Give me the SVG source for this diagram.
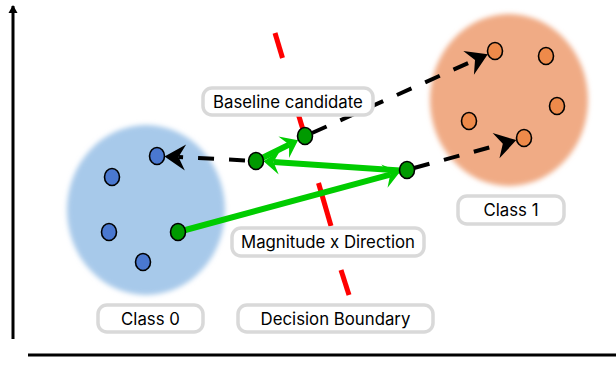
<svg xmlns="http://www.w3.org/2000/svg" width="616" height="368" viewBox="0 0 616 368">
<style>
.lbl rect{fill:#fff;stroke:#d9d9d9;stroke-width:3.5}
.lbl text{font-family:Inter,"Liberation Sans",sans-serif;font-size:16.8px;fill:#000;text-anchor:middle;dominant-baseline:central}
.dot{stroke:#000;stroke-width:1.6}
.blue{fill:#4a78d0}.orange{fill:#ee8a4a}.green{fill:#009a00}
.dash{stroke:#000;stroke-width:4;stroke-dasharray:16 15;fill:none;marker-end:url(#ab)}
.gl{stroke:#00cc00;stroke-width:6;fill:none;marker-end:url(#ag)}
.red{stroke:#ff0000;stroke-width:5}
</style>
<defs>
<filter id="blur" x="-20%" y="-20%" width="140%" height="140%"><feGaussianBlur stdDeviation="2.5"/></filter>
<marker id="ab" markerUnits="userSpaceOnUse" viewBox="-8 -14 23 28" markerWidth="23" markerHeight="28" refX="0" refY="0" orient="auto" overflow="visible"><path d="M14,0 L-7,-13 L0,0 L-7,13 Z" fill="#000"/></marker>
<marker id="ag" markerUnits="userSpaceOnUse" viewBox="-7 -13 18 26" markerWidth="18" markerHeight="26" refX="0" refY="0" orient="auto" overflow="visible"><path d="M10,0 L-6,-12 L0,0 L-6,12 Z" fill="#00cc00"/></marker>
<marker id="ax" markerUnits="userSpaceOnUse" viewBox="-8 -5 10 10" markerWidth="10" markerHeight="10" refX="0" refY="0" orient="auto" overflow="visible"><path d="M1,0 L-7,-4.5 L-7,4.5 Z" fill="#000"/></marker>
</defs>
<g id="blobs">
<ellipse cx="146" cy="210" rx="79" ry="85" fill="#a7c9ea" filter="url(#blur)"/>
<ellipse cx="509" cy="100" rx="79" ry="86" fill="#f0ab85" filter="url(#blur)"/>
</g>
<g id="decision-boundary">
<line class="red" x1="275" y1="33" x2="282.5" y2="58"/>
<line class="red" x1="294" y1="100" x2="307" y2="143"/>
<line class="red" x1="318.5" y1="183" x2="331" y2="226"/>
<line class="red" x1="341" y1="270" x2="349" y2="295"/>
</g>
<g id="axes">
<line x1="13" y1="339" x2="13" y2="6" stroke="#000" stroke-width="3" marker-end="url(#ax)"/>
<line x1="28" y1="355" x2="616" y2="355" stroke="#000" stroke-width="3"/>
</g>
<g id="connectors">
<line class="dash" x1="245" y1="160.4" x2="178.5" y2="157.1"/>
<line class="dash" x1="312" y1="133" x2="475" y2="60"/>
<line class="dash" x1="414" y1="168" x2="502.8" y2="143.8"/>
<line class="gl" x1="178" y1="232" x2="390.2" y2="174.6"/>
<line class="gl" x1="400" y1="170.5" x2="273.5" y2="162"/>
<line class="gl" x1="256" y1="161" x2="289.1" y2="144.6"/>
</g>
<g id="class0-points">
<ellipse class="dot blue" cx="157" cy="156" rx="7.5" ry="8.5"/>
<ellipse class="dot blue" cx="112" cy="177" rx="7.5" ry="8.5"/>
<ellipse class="dot blue" cx="109" cy="232" rx="7.5" ry="8.5"/>
<ellipse class="dot blue" cx="143" cy="262" rx="7.5" ry="8.5"/>
</g>
<g id="class1-points">
<ellipse class="dot orange" cx="495" cy="51" rx="7.5" ry="8.5"/>
<ellipse class="dot orange" cx="546" cy="56" rx="7.5" ry="8.5"/>
<ellipse class="dot orange" cx="557" cy="106" rx="7.5" ry="8.5"/>
<ellipse class="dot orange" cx="469" cy="121" rx="7.5" ry="8.5"/>
<ellipse class="dot orange" cx="524" cy="138" rx="7.5" ry="8.5"/>
</g>
<g id="green-points">
<ellipse class="dot green" cx="178" cy="232" rx="7.5" ry="8.5"/>
<ellipse class="dot green" cx="256" cy="161" rx="7.5" ry="8.5"/>
<ellipse class="dot green" cx="305" cy="136" rx="7.5" ry="8.5"/>
<ellipse class="dot green" cx="407" cy="170" rx="7.5" ry="8.5"/>
</g>
<g id="label-baseline" class="lbl"><rect x="203" y="88" width="170" height="27" rx="9"/><text x="288" y="102">Baseline candidate</text></g>
<g id="label-magnitude" class="lbl"><rect x="232" y="228" width="192" height="28" rx="9"/><text x="328" y="242">Magnitude x Direction</text></g>
<g id="label-class0" class="lbl"><rect x="98" y="305" width="105" height="27" rx="9"/><text x="150.5" y="319">Class 0</text></g>
<g id="label-decision" class="lbl"><rect x="238" y="305" width="195" height="27" rx="9"/><text x="335.5" y="319">Decision Boundary</text></g>
<g id="label-class1" class="lbl"><rect x="458" y="196" width="106" height="28" rx="9"/><text x="511" y="210">Class 1</text></g>
</svg>
